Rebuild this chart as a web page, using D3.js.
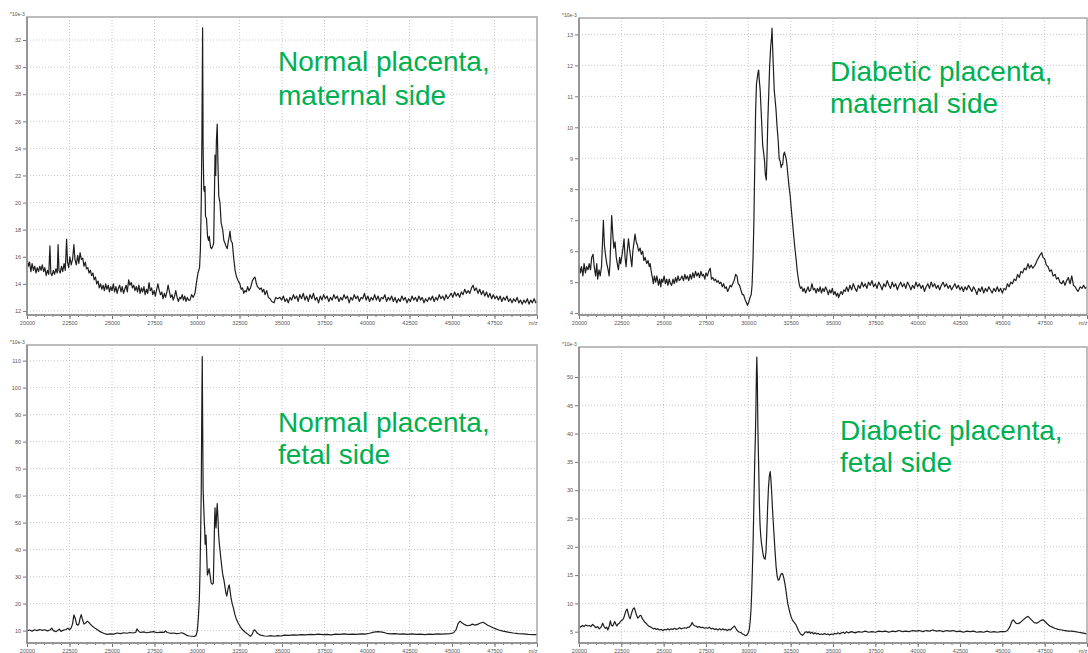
<!DOCTYPE html>
<html>
<head>
<meta charset="utf-8">
<script src="https://cdn.jsdelivr.net/npm/d3@7"></script>
<style>
  body { margin: 0; background: #fff; }
  svg { display: block; font-family: "Liberation Sans", Arial, sans-serif; }
  .tick text { fill: #555; font-size: 5.5px; }
  .tick line { stroke: #777; }
  .domain { display: none; }
</style>
</head>
<body>
<svg id="chart" width="1088" height="653"></svg>
<script>
// x axis: m/z, shared by the four spectra
const xTickValues = [20000, 22500, 25000, 27500, 30000, 32500, 35000, 37500, 40000, 42500, 45000, 47500, 50000];
const xTickLabels = ["20000", "22500", "25000", "27500", "30000", "32500", "35000", "37500", "40000", "42500", "45000", "47500", "m/z"];

// y ticks (*10e-3) for each panel
const yTicksNormalMaternal = [12, 14, 16, 18, 20, 22, 24, 26, 28, 30, 32];
const yTicksDiabeticMaternal = [4, 5, 6, 7, 8, 9, 10, 11, 12, 13];
const yTicksNormalFetal = [10, 20, 30, 40, 50, 60, 70, 80, 90, 100, 110];
const yTicksDiabeticFetal = [5, 10, 15, 20, 25, 30, 35, 40, 45, 50];

// panel titles
const titleNormalMaternal = ["Normal placenta,", "maternal side"];
const titleDiabeticMaternal = ["Diabetic placenta,", "maternal side"];
const titleNormalFetal = ["Normal placenta,", "fetal side"];
const titleDiabeticFetal = ["Diabetic placenta,", "fetal side"];

// spectra: [m/z, intensity *10e-3]
const normalMaternal = [
  [20000,15.9],[20080,15.3],[20150,15.6],[20230,14.9],[20300,15.5],[20380,15.0],[20450,15.3],[20530,14.8],[20600,15.2],[20680,14.9],
  [20750,15.3],[20830,15.0],[20900,15.4],[20980,14.9],[21050,15.2],[21130,14.6],[21200,15.0],[21280,14.7],[21350,16.8],[21400,14.8],
  [21470,14.6],[21550,15.0],[21620,14.7],[21700,15.1],[21780,14.8],[21830,16.9],[21880,15.0],[21950,14.8],[22030,15.3],[22100,14.9],
  [22180,15.5],[22250,15.0],[22330,17.3],[22380,15.6],[22450,15.2],[22520,16.0],[22600,15.4],[22680,15.8],[22760,16.9],[22820,15.8],
  [22900,15.4],[22980,16.1],[23050,15.5],[23120,16.3],[23200,15.8],[23280,15.9],[23350,15.3],[23430,15.6],[23500,15.1],[23580,15.2],
  [23650,14.8],[23730,15.0],[23800,14.6],[23880,14.8],[23950,14.3],[24030,14.5],[24100,14.0],[24180,14.2],[24250,13.7],[24330,14.0],
  [24400,13.6],[24480,13.9],[24550,13.5],[24630,14.0],[24700,13.6],[24780,13.9],[24850,13.4],[24930,13.8],[25000,13.5],[25080,14.0],
  [25150,13.4],[25230,13.8],[25300,13.3],[25380,13.7],[25450,13.9],[25530,13.4],[25600,13.8],[25680,13.3],[25750,13.6],[25830,13.9],
  [25900,13.4],[25980,14.3],[26050,13.9],[26130,14.1],[26200,13.7],[26280,13.9],[26350,13.5],[26430,13.8],[26500,13.4],[26580,13.9],
  [26650,13.3],[26730,13.7],[26800,13.4],[26880,13.8],[26950,13.2],[27030,13.6],[27100,13.3],[27180,14.1],[27250,13.5],[27330,13.7],
  [27400,13.2],[27480,13.5],[27550,13.1],[27630,13.6],[27700,14.0],[27780,13.5],[27850,13.2],[27930,13.4],[28000,12.9],[28080,13.3],
  [28150,13.0],[28230,13.4],[28300,13.9],[28380,13.4],[28450,13.0],[28530,13.2],[28600,12.8],[28680,13.1],[28750,13.5],[28830,13.0],
  [28900,12.7],[28980,13.0],[29050,12.9],[29130,13.2],[29200,12.8],[29280,13.1],[29350,12.7],[29430,13.0],[29500,12.8],[29590,12.8],
  [29680,13.2],[29780,13.0],[29880,13.3],[29980,14.2],[30060,14.8],[30150,15.2],[30200,16.5],[30250,20.0],[30290,25.0],[30330,32.9],
  [30360,24.0],[30400,21.0],[30440,20.8],[30470,21.2],[30500,19.0],[30560,18.8],[30620,17.5],[30680,17.2],[30720,17.5],[30800,16.7],
  [30860,16.6],[30930,16.8],[30980,17.0],[31030,21.0],[31060,23.5],[31100,22.0],[31140,24.5],[31190,25.8],[31230,23.0],[31280,20.5],
  [31350,20.0],[31420,18.5],[31510,18.0],[31580,17.2],[31650,17.0],[31700,16.8],[31780,16.6],[31850,17.2],[31900,17.5],[31940,17.9],
  [32000,17.2],[32080,17.0],[32150,16.0],[32240,15.0],[32330,14.5],[32430,14.2],[32520,14.0],[32600,13.6],[32680,13.7],[32750,13.3],
  [32820,13.5],[32900,13.4],[32980,13.8],[33050,13.5],[33150,13.7],[33250,14.2],[33330,14.4],[33410,14.5],[33480,14.1],[33550,13.8],
  [33630,13.7],[33700,13.6],[33780,13.7],[33850,13.4],[33930,13.6],[34000,13.2],[34100,13.5],[34200,13.0],[34300,12.9],[34400,12.7],
  [34530,12.6],[34630,13.0],[34730,12.9],[34880,13.0],[34980,12.8],[35080,13.1],[35180,12.7],[35280,12.9],[35370,12.6],[35470,13.0],
  [35570,12.8],[35670,13.2],[35760,12.9],[35860,13.1],[35950,12.7],[36050,13.2],[36150,12.9],[36250,13.3],[36350,12.8],[36450,13.1],
  [36550,12.7],[36650,13.2],[36750,12.9],[36850,13.3],[36950,12.8],[37050,13.0],[37150,12.6],[37250,13.1],[37350,12.8],[37450,13.2],
  [37550,12.9],[37650,13.1],[37750,12.7],[37850,13.0],[37950,12.8],[38050,13.2],[38150,12.9],[38250,13.1],[38350,12.7],[38450,13.0],
  [38550,12.8],[38650,13.2],[38750,12.9],[38850,13.1],[38950,12.6],[39050,13.0],[39150,12.8],[39250,13.2],[39350,12.9],[39450,13.1],
  [39550,12.7],[39650,13.0],[39750,12.9],[39850,13.3],[39950,12.8],[40050,13.1],[40150,12.7],[40250,13.0],[40350,12.8],[40450,13.2],
  [40550,12.8],[40650,13.1],[40750,12.7],[40850,13.0],[40950,12.9],[41050,13.2],[41150,12.7],[41250,13.0],[41350,12.8],[41450,13.1],
  [41550,12.7],[41650,13.0],[41750,12.6],[41850,12.9],[41950,12.7],[42050,13.1],[42150,12.8],[42250,13.0],[42350,12.6],[42450,12.9],
  [42550,12.7],[42650,13.1],[42750,12.8],[42850,13.0],[42950,12.7],[43050,13.1],[43150,12.8],[43250,13.0],[43350,12.6],[43450,12.9],
  [43550,12.7],[43650,13.0],[43750,12.8],[43850,13.1],[43950,12.7],[44050,13.0],[44150,12.8],[44250,13.2],[44350,12.9],[44450,13.1],
  [44550,12.8],[44650,13.2],[44750,12.9],[44850,13.1],[44950,13.3],[45050,13.0],[45150,13.4],[45250,13.1],[45350,13.3],[45450,13.0],
  [45550,13.4],[45650,13.2],[45750,13.6],[45850,13.3],[45950,13.5],[46050,13.3],[46150,13.7],[46240,13.9],[46330,13.5],[46430,13.7],
  [46530,13.3],[46630,13.6],[46730,13.2],[46830,13.5],[46930,13.1],[47030,13.4],[47130,13.0],[47230,13.3],[47330,12.9],[47430,13.2],
  [47530,12.9],[47630,13.1],[47730,12.8],[47830,13.1],[47930,12.7],[48030,13.0],[48130,12.8],[48230,13.1],[48330,12.7],[48430,12.9],
  [48530,12.6],[48630,12.9],[48730,12.7],[48830,13.0],[48930,12.6],[49030,12.8],[49130,12.5],[49230,12.8],[49330,12.6],[49430,12.9],
  [49530,12.5],[49630,12.8],[49730,12.6],[49830,12.9],[49930,12.6],[50000,12.7]
];

const diabeticMaternal = [
  [20000,5.6],[20080,5.3],[20150,5.5],[20230,5.2],[20300,5.6],[20380,5.3],[20450,5.5],[20530,5.4],[20600,5.6],[20680,5.4],
  [20750,5.8],[20830,5.9],[20900,5.5],[20980,5.2],[21050,5.6],[21100,5.1],[21180,5.4],[21250,5.2],[21330,5.5],[21440,7.0],
  [21500,6.2],[21560,5.9],[21640,5.6],[21720,5.4],[21780,5.2],[21830,5.6],[21930,7.15],[22000,6.5],[22060,6.1],[22130,6.3],
  [22200,5.8],[22260,5.6],[22330,5.4],[22400,5.8],[22460,5.6],[22520,5.8],[22600,6.1],[22660,6.4],[22720,5.8],[22780,5.5],
  [22850,6.0],[22920,6.4],[22980,6.1],[23050,5.8],[23120,5.5],[23180,6.0],[23250,6.3],[23310,6.55],[23380,6.3],[23450,6.2],
  [23520,6.0],[23610,6.1],[23680,5.9],[23760,6.0],[23830,5.7],[23900,5.8],[24000,5.6],[24080,5.7],[24150,5.5],[24200,5.6],
  [24280,5.3],[24350,5.1],[24390,4.95],[24450,5.2],[24530,5.0],[24600,5.2],[24690,4.9],[24760,5.1],[24830,4.85],[24880,5.1],
  [24950,5.0],[25030,5.2],[25100,4.95],[25180,5.1],[25250,4.9],[25330,5.1],[25400,4.95],[25470,4.9],[25550,5.1],[25620,4.95],
  [25700,5.15],[25770,5.0],[25850,5.2],[25920,5.05],[26000,5.1],[26080,5.2],[26170,5.05],[26250,5.25],[26320,5.1],[26400,5.2],
  [26480,5.05],[26560,5.25],[26640,5.1],[26720,5.3],[26800,5.15],[26880,5.35],[26960,5.2],[27040,5.3],[27120,5.15],[27200,5.35],
  [27280,5.2],[27350,5.25],[27430,5.1],[27500,5.3],[27580,5.2],[27660,5.35],[27750,5.45],[27820,5.1],[27900,5.15],[27980,5.05],
  [28060,5.1],[28140,5.0],[28220,5.05],[28300,4.95],[28380,5.0],[28460,4.85],[28540,4.95],[28620,4.8],[28700,4.85],[28780,4.7],
  [28860,4.8],[28930,4.9],[29000,4.85],[29080,4.95],[29160,5.05],[29250,5.25],[29330,5.2],[29400,4.95],[29480,4.9],[29560,4.75],
  [29640,4.6],[29720,4.6],[29800,4.45],[29880,4.35],[29950,4.25],[30020,4.35],[30100,4.5],[30170,4.6],[30220,4.9],[30280,5.8],
  [30330,7.0],[30380,8.8],[30430,10.5],[30480,11.4],[30530,11.6],[30580,11.8],[30610,11.85],[30650,11.5],[30700,11.2],[30750,10.6],
  [30800,10.0],[30850,9.4],[30900,9.2],[30960,8.9],[31000,8.5],[31060,8.3],[31100,9.0],[31150,10.2],[31200,11.0],[31260,12.0],
  [31320,12.6],[31370,12.9],[31400,13.2],[31440,12.5],[31480,11.9],[31530,11.2],[31580,10.9],[31630,10.6],[31700,10.0],[31760,9.6],
  [31820,9.0],[31880,8.9],[31940,8.7],[31990,8.8],[32030,8.8],[32080,9.1],[32130,9.2],[32180,9.1],[32230,9.0],[32280,8.8],
  [32330,8.5],[32400,8.1],[32470,7.8],[32530,7.4],[32580,7.1],[32630,6.8],[32680,6.5],[32730,6.2],[32780,5.95],[32830,5.7],
  [32880,5.4],[32930,5.2],[32970,5.05],[33020,4.9],[33080,4.8],[33150,4.85],[33220,4.7],[33300,4.8],[33380,4.65],[33450,4.75],
  [33530,4.85],[33600,4.7],[33680,4.75],[33760,4.95],[33840,4.75],[33920,4.8],[34000,4.65],[34080,4.8],[34160,4.7],[34240,4.85],
  [34320,4.65],[34400,4.8],[34480,4.7],[34560,4.85],[34640,4.75],[34720,4.6],[34800,4.75],[34880,4.65],[34960,4.8],[35040,4.6],
  [35120,4.7],[35200,4.55],[35280,4.65],[35330,4.5],[35400,4.6],[35480,4.7],[35560,4.6],[35640,4.75],[35720,4.7],[35800,4.85],
  [35900,4.7],[36000,4.9],[36100,4.75],[36200,4.95],[36300,4.8],[36400,4.7],[36500,4.9],[36600,4.8],[36700,5.0],[36800,4.85],
  [36900,4.95],[37000,4.8],[37100,5.0],[37200,4.9],[37300,5.05],[37400,4.85],[37500,4.95],[37600,4.8],[37700,5.0],[37800,4.9],
  [37900,4.75],[38000,4.95],[38100,4.85],[38200,5.05],[38300,4.9],[38400,4.8],[38500,5.0],[38600,4.85],[38700,4.95],[38800,4.75],
  [38900,4.9],[39000,5.0],[39100,4.85],[39200,4.95],[39300,4.8],[39400,5.0],[39500,4.9],[39600,4.75],[39700,4.9],[39800,4.8],
  [39900,5.0],[40000,4.85],[40100,4.95],[40200,4.8],[40300,4.9],[40400,4.7],[40500,4.85],[40600,4.95],[40700,4.8],[40800,5.0],
  [40900,4.85],[41000,4.95],[41100,4.8],[41200,4.9],[41300,4.75],[41400,4.9],[41500,5.0],[41600,4.85],[41700,4.95],[41800,4.8],
  [41900,4.9],[42000,4.75],[42100,4.85],[42200,4.95],[42300,4.8],[42400,4.9],[42500,4.75],[42600,4.85],[42700,4.7],[42800,4.85],
  [42900,4.75],[43000,4.9],[43100,4.8],[43200,4.7],[43300,4.85],[43400,4.75],[43500,4.6],[43600,4.8],[43700,4.7],[43800,4.85],
  [43900,4.65],[44000,4.8],[44100,4.7],[44200,4.85],[44300,4.75],[44400,4.65],[44500,4.8],[44600,4.7],[44700,4.85],[44800,4.7],
  [44900,4.8],[45000,4.65],[45100,4.8],[45200,4.75],[45300,4.95],[45400,4.85],[45500,5.0],[45600,4.95],[45700,5.1],[45800,5.05],
  [45900,5.25],[46000,5.15],[46100,5.35],[46200,5.3],[46300,5.45],[46400,5.4],[46520,5.6],[46600,5.45],[46700,5.55],[46800,5.45],
  [46930,5.55],[47050,5.7],[47150,5.8],[47250,5.9],[47330,5.95],[47400,5.8],[47500,5.75],[47600,5.55],[47700,5.5],[47800,5.35],
  [47900,5.4],[48000,5.2],[48120,5.25],[48200,5.1],[48300,5.15],[48400,5.0],[48510,4.95],[48600,5.05],[48700,4.9],[48800,5.05],
  [48900,5.15],[49000,4.95],[49100,5.2],[49200,4.9],[49300,4.85],[49400,4.75],[49470,4.7],[49600,4.85],[49700,4.8],[49800,4.9],
  [49900,4.8],[50000,4.85]
];

const normalFetal = [
  [20000,9.9],[20150,10.2],[20300,9.8],[20450,10.3],[20600,10.0],[20750,10.4],[20900,10.1],[21050,10.3],[21200,9.9],[21350,10.2],
  [21450,10.9],[21550,10.0],[21700,9.6],[21800,10.0],[21900,10.5],[22000,9.7],[22150,10.2],[22300,10.4],[22400,10.9],[22500,10.3],
  [22600,11.0],[22680,12.5],[22760,15.8],[22840,14.5],[22920,12.3],[23000,12.0],[23060,12.6],[23120,14.5],[23190,15.9],[23270,14.0],
  [23350,12.4],[23450,12.8],[23550,13.5],[23640,13.0],[23730,12.3],[23850,11.6],[23980,11.0],[24130,10.4],[24300,9.6],[24510,9.0],
  [24700,8.6],[24900,8.8],[25100,8.7],[25300,9.1],[25500,8.9],[25700,9.2],[25880,9.0],[26050,9.3],[26250,9.1],[26400,9.4],
  [26470,10.6],[26560,9.8],[26670,9.3],[26850,9.5],[27050,9.2],[27250,9.4],[27450,9.6],[27650,9.2],[27850,9.4],[28050,9.3],
  [28140,9.9],[28250,9.3],[28430,9.0],[28600,9.1],[28800,8.9],[28950,9.0],[29120,9.2],[29280,8.7],[29410,8.2],[29550,8.0],
  [29700,7.9],[29850,7.8],[29950,8.3],[30020,10.0],[30080,14.7],[30140,22],[30180,33],[30220,48],[30250,62],[30280,90],
  [30310,111.5],[30335,85],[30360,62],[30400,55],[30430,50],[30450,48],[30480,42],[30530,45.4],[30570,38],[30610,30.6],
  [30660,31.5],[30710,33],[30760,31],[30830,27.7],[30900,27.2],[30960,27.5],[31000,40],[31040,52],[31060,55.5],[31090,50],
  [31120,48],[31160,54],[31190,57],[31230,52],[31270,46],[31300,43],[31350,40],[31400,37],[31450,34],[31510,31],
  [31590,28.5],[31650,26],[31700,24],[31750,22.8],[31800,24.5],[31860,26.5],[31900,26.9],[31950,24.5],[32000,22.2],[32070,20],
  [32140,18.4],[32220,16.2],[32300,14.5],[32420,12.8],[32540,11.5],[32680,10.3],[32840,9.4],[33000,8.6],[33140,7.9],[33250,8.6],
  [33320,9.8],[33380,10.3],[33450,9.9],[33550,9.0],[33650,8.6],[33800,8.2],[33980,8.0],[34140,7.9],[34350,8.1],[34550,7.9],
  [34750,8.1],[34920,8.0],[35150,8.3],[35400,8.2],[35650,8.4],[35900,8.3],[36150,8.5],[36400,8.4],[36650,8.6],[36900,8.5],
  [37150,8.7],[37400,8.5],[37650,8.6],[37900,8.4],[38150,8.7],[38400,8.6],[38650,8.8],[38900,8.6],[39150,8.7],[39400,8.6],
  [39650,8.8],[39900,8.7],[40150,9.0],[40400,9.4],[40650,9.6],[40900,9.4],[41150,9.0],[41400,8.8],[41650,8.9],[41900,8.7],
  [42150,8.8],[42400,8.6],[42650,8.8],[42900,8.6],[43150,8.7],[43400,8.5],[43650,8.7],[43900,8.6],[44150,8.8],[44400,8.7],
  [44650,8.8],[44900,8.9],[45100,9.2],[45250,10.5],[45350,12.5],[45470,13.5],[45600,12.8],[45750,12.2],[45900,11.8],[46050,11.9],
  [46200,12.4],[46350,12.0],[46500,12.3],[46650,12.7],[46820,13.1],[46950,12.6],[47100,12.0],[47300,11.4],[47500,10.8],[47750,10.2],
  [48000,9.8],[48300,9.4],[48600,9.1],[48900,8.9],[49200,8.8],[49500,8.6],[49800,8.5],[50000,8.5]
];

const diabeticFetal = [
  [20000,6.0],[20100,5.8],[20200,6.1],[20300,5.9],[20400,6.2],[20500,6.0],[20600,6.1],[20700,5.9],[20800,6.3],[20900,6.0],
  [21000,5.7],[21100,5.9],[21200,5.5],[21300,5.8],[21400,6.5],[21480,5.9],[21560,5.6],[21640,5.8],[21700,5.3],[21780,5.9],
  [21850,6.9],[21920,6.1],[21990,6.0],[22050,6.4],[22110,6.8],[22180,6.3],[22240,6.0],[22290,6.3],[22380,6.5],[22450,6.8],
  [22520,7.0],[22580,7.1],[22650,7.5],[22720,8.2],[22790,8.8],[22840,9.0],[22900,8.3],[22960,7.6],[23020,7.3],[23080,8.0],
  [23150,8.7],[23210,9.1],[23270,9.2],[23330,8.6],[23400,7.9],[23470,7.4],[23540,7.6],[23610,7.9],[23670,7.8],[23740,7.3],
  [23810,7.0],[23880,6.7],[23960,6.5],[24040,6.2],[24110,6.0],[24180,5.9],[24260,5.8],[24340,5.6],[24410,5.5],[24480,5.6],
  [24550,5.4],[24650,5.5],[24750,5.3],[24850,5.4],[24950,5.2],[25050,5.4],[25150,5.3],[25250,5.5],[25340,5.3],[25440,5.5],
  [25540,5.4],[25640,5.6],[25740,5.4],[25840,5.5],[25940,5.7],[26030,5.5],[26130,5.6],[26230,5.7],[26330,5.6],[26430,5.8],
  [26520,5.8],[26600,6.1],[26680,6.6],[26760,6.2],[26840,6.0],[26910,6.0],[27000,5.8],[27100,5.9],[27200,5.7],[27300,5.8],
  [27400,5.6],[27500,5.7],[27600,5.6],[27700,5.8],[27800,5.5],[27900,5.6],[28000,5.4],[28100,5.5],[28200,5.3],[28300,5.5],
  [28400,5.3],[28490,5.5],[28580,5.3],[28670,5.4],[28760,5.2],[28850,5.4],[28940,5.3],[29030,5.6],[29110,5.8],[29180,6.0],
  [29260,5.6],[29340,5.2],[29420,5.0],[29500,4.9],[29580,4.8],[29660,4.6],[29740,4.5],[29820,4.3],[29870,4.3],[29940,4.5],
  [30010,4.9],[30060,5.5],[30110,6.8],[30160,9.0],[30200,12],[30240,16],[30280,20.5],[30330,28],[30370,34],[30420,40],
  [30450,45],[30480,51],[30500,53.5],[30530,50],[30560,42],[30590,37],[30620,33],[30650,28],[30690,24],[30730,22],
  [30780,20.5],[30830,19.5],[30880,18.5],[30930,18.0],[30990,17.8],[31040,19],[31090,22.5],[31140,27],[31190,30.5],[31240,32.5],
  [31290,33.3],[31330,32],[31380,29.5],[31430,26.5],[31500,23],[31570,19.5],[31640,16.5],[31700,14.8],[31760,14.1],[31820,14.2],
  [31880,14.8],[31940,15.2],[32000,15.3],[32050,15.0],[32110,14.3],[32170,13.3],[32220,12.3],[32280,11.0],[32330,10.0],[32380,9.3],
  [32450,8.4],[32520,7.7],[32570,7.3],[32640,6.9],[32720,6.6],[32800,6.3],[32880,5.8],[32960,5.2],[33040,4.8],[33120,4.5],
  [33200,4.35],[33280,4.6],[33360,4.9],[33430,5.0],[33510,4.8],[33590,5.0],[33670,4.7],[33760,4.9],[33850,4.6],[33940,4.8],
  [34030,4.6],[34120,4.7],[34210,4.5],[34300,4.6],[34400,4.5],[34500,4.7],[34600,4.5],[34700,4.6],[34800,4.4],[34900,4.6],
  [35000,4.5],[35100,4.7],[35200,4.6],[35300,4.8],[35400,4.6],[35500,4.8],[35600,4.9],[35700,4.7],[35800,5.0],[35900,4.8],
  [36100,5.0],[36300,4.8],[36500,5.0],[36700,4.9],[36900,5.1],[37100,4.9],[37300,5.0],[37500,4.9],[37700,5.1],[37900,5.0],
  [38100,5.1],[38300,4.9],[38500,5.1],[38700,5.0],[38900,5.2],[39100,5.0],[39300,5.1],[39500,5.0],[39700,5.2],[39900,5.1],
  [40100,5.2],[40300,5.0],[40500,5.2],[40700,5.1],[40900,5.3],[41100,5.1],[41300,5.2],[41500,5.0],[41700,5.2],[41900,5.1],
  [42100,5.2],[42300,5.0],[42500,5.1],[42700,4.9],[42900,5.1],[43100,5.0],[43300,5.1],[43500,4.9],[43700,5.0],[43900,4.9],
  [44100,5.1],[44300,4.9],[44500,5.0],[44700,4.9],[44900,5.0],[45160,5.0],[45300,5.2],[45450,5.9],[45560,6.8],[45640,7.1],
  [45720,6.8],[45800,6.5],[45930,6.4],[46050,6.6],[46200,7.0],[46350,7.4],[46450,7.6],[46520,7.7],[46620,7.4],[46750,7.0],
  [46880,6.6],[47030,6.5],[47150,6.7],[47280,7.0],[47410,7.1],[47520,6.8],[47650,6.4],[47800,6.0],[47950,5.8],[48100,5.6],
  [48300,5.4],[48510,5.3],[48700,5.2],[48900,5.1],[49100,5.1],[49300,5.0],[49500,4.9],[49700,4.8],[49850,4.7],[50000,4.6]
];

const svg = d3.select("#chart");
const green = "#00b050";

function drawPanel(p) {
  let g = svg.append("g");

  let x = d3.scaleLinear().domain([20000, 50000]).range([p.left, p.right]);
  let y = d3.scaleLinear().domain(p.yDomain).range([p.bottom, p.top]);

  // dotted grid
  g.append("g").selectAll("line")
    .data(xTickValues.slice(1, -1))
    .join("line")
      .attr("x1", d => x(d)).attr("x2", d => x(d))
      .attr("y1", p.top).attr("y2", p.bottom)
      .attr("stroke", "#c8c8c8").attr("stroke-dasharray", "1,2");

  g.append("g").selectAll("line")
    .data(p.yTicks)
    .join("line")
      .attr("x1", p.left).attr("x2", p.right)
      .attr("y1", d => y(d)).attr("y2", d => y(d))
      .attr("stroke", "#c8c8c8").attr("stroke-dasharray", "1,2");

  // minor ticks
  g.append("g")
    .attr("transform", `translate(0,${p.bottom})`)
    .call(d3.axisBottom(x).tickValues(d3.range(20000, 50001, 500)).tickSize(2).tickFormat(""));

  // axes
  let xAxisG = g.append("g")
    .attr("transform", `translate(0,${p.bottom})`)
    .call(d3.axisBottom(x).tickValues(xTickValues).tickFormat((d, i) => xTickLabels[i]).tickSize(4).tickPadding(2));

  // "m/z" sits at the right end, keep it inside the frame
  xAxisG.selectAll(".tick text")
    .filter((d, i) => i === xTickValues.length - 1)
    .attr("text-anchor", "end");

  g.append("g")
    .attr("transform", `translate(${p.left},0)`)
    .call(d3.axisLeft(y).tickValues(p.yTicks).tickSize(4).tickPadding(2));

  // spectrum
  let clipId = "clip" + p.id;
  g.append("clipPath").attr("id", clipId)
    .append("rect")
      .attr("x", p.left).attr("y", p.top)
      .attr("width", p.right - p.left).attr("height", p.bottom - p.top);

  let line = d3.line()
    .x(d => x(d[0]))
    .y(d => y(d[1]));

  g.append("path")
    .datum(p.data)
    .attr("clip-path", `url(#${clipId})`)
    .attr("fill", "none")
    .attr("stroke", "#1e1e1e")
    .attr("stroke-width", 1.2)
    .attr("stroke-linejoin", "round")
    .attr("d", line);

  // frame
  g.append("rect")
    .attr("x", p.left).attr("y", p.top)
    .attr("width", p.right - p.left).attr("height", p.bottom - p.top)
    .attr("fill", "none").attr("stroke", "#a8a8a8").attr("stroke-width", 1.5);
  g.append("path")
    .attr("d", `M${p.left},${p.top}V${p.bottom}H${p.right}`)
    .attr("fill", "none").attr("stroke", "#8a8a8a").attr("stroke-width", 1.5);

  // unit label
  g.append("text")
    .attr("x", p.left - 17).attr("y", p.top - 1)
    .attr("font-size", 5)
    .attr("fill", "#555")
    .text("*10e-3");

  // title
  let t = g.append("text")
    .attr("fill", green)
    .attr("font-size", 28);
  p.title.forEach((s, i) => {
    t.append("tspan")
      .attr("x", p.titleX)
      .attr("y", p.titleY + i * p.titleGap)
      .text(s);
  });
}

drawPanel({id: 1, data: normalMaternal, yTicks: yTicksNormalMaternal, title: titleNormalMaternal,
  left: 27, right: 537, top: 17, bottom: 315, yDomain: [11.7, 33.7],
  titleX: 278, titleY: 71, titleGap: 34});

drawPanel({id: 2, data: diabeticMaternal, yTicks: yTicksDiabeticMaternal, title: titleDiabeticMaternal,
  left: 579, right: 1087, top: 18, bottom: 315, yDomain: [3.94, 13.53],
  titleX: 830, titleY: 81, titleGap: 32});

drawPanel({id: 3, data: normalFetal, yTicks: yTicksNormalFetal, title: titleNormalFetal,
  left: 27, right: 537, top: 345, bottom: 643, yDomain: [5.4, 115.8],
  titleX: 278, titleY: 432, titleGap: 32});

drawPanel({id: 4, data: diabeticFetal, yTicks: yTicksDiabeticFetal, title: titleDiabeticFetal,
  left: 579, right: 1087, top: 347, bottom: 643, yDomain: [3.0, 55.3],
  titleX: 840, titleY: 440, titleGap: 32});
</script>
</body>
</html>
